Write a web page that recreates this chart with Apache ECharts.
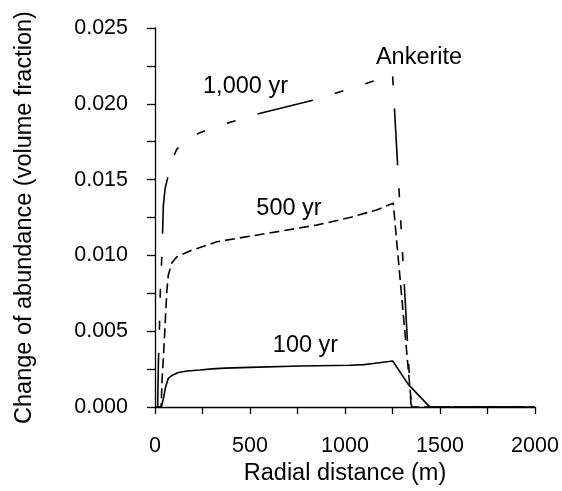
<!DOCTYPE html>
<html>
<head>
<meta charset="utf-8">
<script src="https://cdn.jsdelivr.net/npm/echarts@6/dist/echarts.min.js"></script>
<style>html,body{margin:0;padding:0;background:#fff}#c{width:562px;height:491px}</style>
</head>
<body>
<div id="c"></div>
<script>
// Data (x: radial distance in m, y: volume fraction)
var yr100 = [[0,0],[33,0],[45,0.0006],[55,0.0013],[70,0.0019],[88,0.00208],[123,0.00228],[170,0.00238],[237,0.00245],[300,0.00252],[368,0.00257],[500,0.00262],[763,0.00271],[1026,0.00276],[1100,0.0028],[1149,0.00287],[1251,0.00304],[1333,0.00150],[1447,0],[2000,0]];
var yr500 = [[0,0],[32,0],[38,0.0020],[44,0.0032],[53,0.0054],[62,0.0076],[70,0.0087],[88,0.0095],[114,0.0099],[184,0.0103],[325,0.0109],[500,0.01127],[675,0.01163],[850,0.0120],[1026,0.0125],[1166,0.0130],[1254,0.01345],[1351,0],[2000,0]];
var yr1000 = [[0,0],[14,0],[18,0.0030],[24,0.0055],[28,0.0076],[35,0.0097],[40,0.0116],[44,0.0133],[53,0.0144],[70,0.0153],[90,0.0163],[114,0.0170],[170,0.0177],[237,0.0181],[280,0.0183],[400,0.0188],[560,0.0194],[850,0.0203],[1000,0.0209],[1150,0.0215],[1250,0.0220],[1348,0],[2000,0]];
var seriesNames = ['100 yr', '500 yr', '1,000 yr'];
var xTicks = {min: 0, max: 2000, interval: 500};
var yTicks = {min: 0, max: 0.025, interval: 0.005};

var FONT = 'Liberation Sans, Arial, sans-serif';
var chart = echarts.init(document.getElementById('c'), null, {renderer: 'canvas'});
chart.setOption({
  animation: false,
  backgroundColor: '#fff',
  grid: {left: 155, right: 27, top: 28, bottom: 82, containLabel: false},
  xAxis: {
    type: 'value', min: xTicks.min, max: xTicks.max, interval: xTicks.interval,
    name: 'Radial distance (m)', nameLocation: 'middle', nameGap: 52,
    nameTextStyle: {fontFamily: FONT, fontSize: 23.5, color: '#000'},
    axisLine: {show: true, onZero: false, lineStyle: {color: '#000', width: 1.3}},
    axisTick: {show: true, length: 7, lineStyle: {color: '#000', width: 1.3}},
    minorTick: {show: true, splitNumber: 2, length: 7, lineStyle: {color: '#000', width: 1.3}},
    splitLine: {show: false},
    axisLabel: {fontFamily: FONT, fontSize: 21.5, color: '#000', margin: 28,
      formatter: function (v) { return String(v); }}
  },
  yAxis: {
    type: 'value', min: yTicks.min, max: yTicks.max, interval: yTicks.interval,
    name: 'Change of abundance (volume fraction)', nameLocation: 'middle', nameGap: 118,
    nameTextStyle: {fontFamily: FONT, fontSize: 23.5, color: '#000'},
    axisLine: {show: true, lineStyle: {color: '#000', width: 1.3}},
    axisTick: {show: true, length: 8, lineStyle: {color: '#000', width: 1.3}},
    minorTick: {show: true, splitNumber: 2, length: 8, lineStyle: {color: '#000', width: 1.3}},
    splitLine: {show: false},
    axisLabel: {fontFamily: FONT, fontSize: 21.5, color: '#000', margin: 27,
      formatter: function (v) { return v.toFixed(3); }}
  },
  series: [
    {name: seriesNames[0], type: 'line', data: yr100, symbol: 'none', z: 3,
     lineStyle: {color: '#000', width: 1.6, type: 'solid'}},
    {name: seriesNames[1], type: 'line', data: yr500, symbol: 'none', z: 2,
     lineStyle: {color: '#000', width: 1.6, type: [10, 5]}},
    {name: seriesNames[2], type: 'line', data: yr1000, symbol: 'none', z: 2,
     lineStyle: {color: '#000', width: 1.6, type: [57, 23, 9, 23, 9, 23, 9, 23]}}
  ],
  graphic: [
    {type: 'text', position: [419, 58], style: {text: 'Ankerite', font: '23.5px ' + FONT, fill: '#000', textAlign: 'center', textVerticalAlign: 'middle'}},
    {type: 'text', position: [245.5, 87], style: {text: seriesNames[2], font: '23.5px ' + FONT, fill: '#000', textAlign: 'center', textVerticalAlign: 'middle'}},
    {type: 'text', position: [289, 208.5], style: {text: seriesNames[1], font: '23.5px ' + FONT, fill: '#000', textAlign: 'center', textVerticalAlign: 'middle'}},
    {type: 'text', position: [305.5, 346], style: {text: seriesNames[0], font: '23.5px ' + FONT, fill: '#000', textAlign: 'center', textVerticalAlign: 'middle'}}
  ]
});
</script>
</body>
</html>
